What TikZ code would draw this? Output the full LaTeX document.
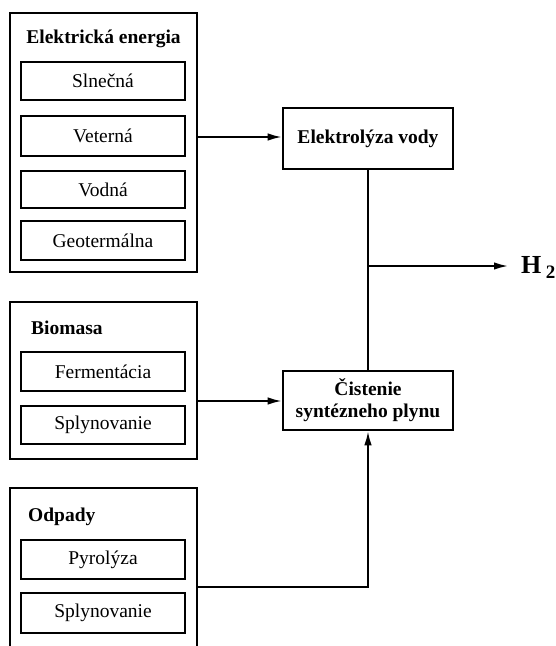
\documentclass[tikz,border=0pt]{standalone}
\usepackage{fontspec}
\setmainfont{Liberation Serif}
\usetikzlibrary{arrows.meta}
\begin{document}
\begin{tikzpicture}[x=1pt,y=-1pt,
  outer/.style={draw,line width=2.6pt},
  inner/.style={draw,line width=2pt},
  proc/.style={draw,line width=2.6pt,align=center,font=\fontsize{19.5}{22}\selectfont\bfseries},
  ttl/.style={font=\fontsize{19.5}{22}\selectfont\bfseries,inner sep=0pt},
  itxt/.style={font=\fontsize{19.5}{22}\selectfont,inner sep=0pt},
  conn/.style={line width=1.8pt},
  arr/.style={line width=1.8pt,-{Latex[length=14pt,width=7.5pt]}}]
\useasboundingbox (0,0) rectangle (556,646);
% group 1
\draw[outer] (10,13) rectangle (197,272);
\node[ttl] (t1) at (103.5,39) {Elektrická energia};
\draw[inner] (21,62) rectangle (185,100);
\node[itxt] (s1) at (103,81) {Slnečná};
\draw[inner] (21,116) rectangle (185,156);
\node[itxt] (s2) at (103,136) {Veterná};
\draw[inner] (21,171) rectangle (185,208);
\node[itxt] (s3) at (103,189.5) {Vodná};
\draw[inner] (21,221) rectangle (185,260);
\node[itxt] (s4) at (103,240.5) {Geotermálna};
\coordinate (g1) at (197,137);
% group 2
\draw[outer] (10,302) rectangle (197,459);
\node[ttl,anchor=west] (t2) at (31,328) {Biomasa};
\draw[inner] (21,352) rectangle (185,391);
\node[itxt] (b1) at (103,371.5) {Fermentácia};
\draw[inner] (21,406) rectangle (185,444);
\node[itxt] (b2) at (103,425) {Splynovanie};
\coordinate (g2) at (197,401);
% group 3
\draw[outer] (10,655) -- (10,488) -- (197,488) -- (197,655);
\node[ttl,anchor=west] (t3) at (28,517) {Odpady};
\draw[inner] (21,540) rectangle (185,579);
\node[itxt] (o1) at (103,559.5) {Pyrolýza};
\draw[inner] (21,593) rectangle (185,633);
\node[itxt] (o2) at (103,613) {Splynovanie};
\coordinate (g3) at (197,587);
% process boxes
\node[proc,minimum width=170pt,minimum height=61pt] (el) at (368,138.5) {Elektrolýza vody};
\node[proc,minimum width=170pt,minimum height=59pt,inner sep=1pt] (ci) at (368,400.5) {Čistenie\\syntézneho plynu};
\coordinate (j) at (ci.north |- 0,266);
\coordinate (je) at (508,266);
\node[font=\fontsize{26}{28}\selectfont\bfseries,anchor=west,inner sep=0pt] (h2) at (521,267) {H\,\raisebox{-5pt}{\fontsize{19}{20}\selectfont 2}};
% connectors
\draw[arr] (g1) -- (el.west |- g1);
\draw[arr] (g2) -- (ci.west |- g2);
\draw[arr] (g3) -| (ci.south);
\draw[conn] (el.south) -- (ci.north);
\draw[arr] (j) -- (je);
\end{tikzpicture}
\end{document}
